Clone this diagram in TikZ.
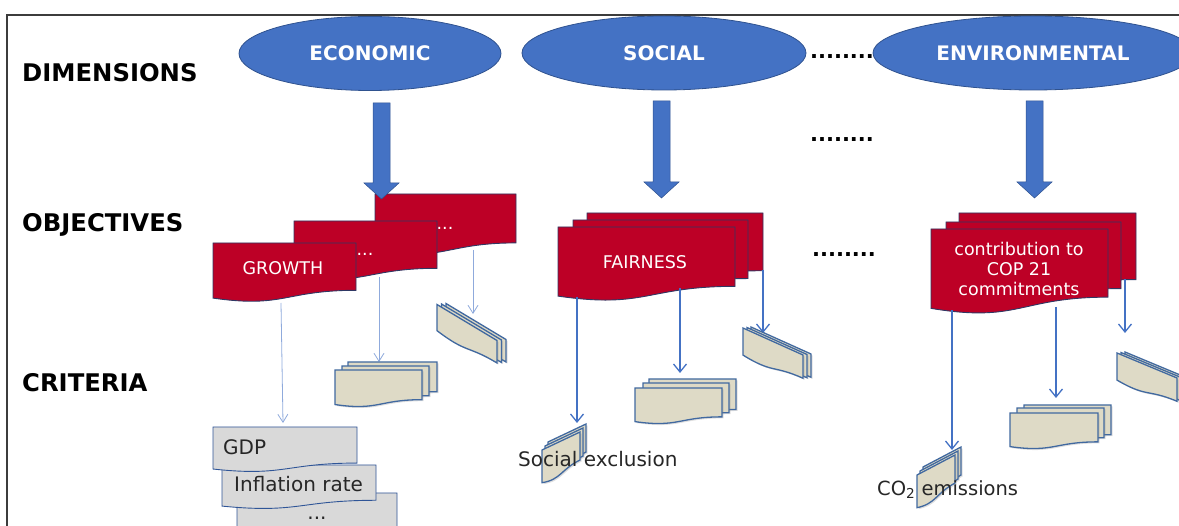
\documentclass[tikz,border=0pt]{standalone}
\usepackage{fontspec}
\setmainfont{DejaVu Sans}
\usetikzlibrary{arrows.meta,shapes.geometric,shadows}
\definecolor{blueF}{RGB}{68,114,196}
\definecolor{blueD}{RGB}{47,82,143}
\definecolor{redF}{RGB}{189,0,38}
\definecolor{redD}{RGB}{47,56,100}
\definecolor{creamF}{RGB}{222,218,198}
\definecolor{creamD}{RGB}{65,105,160}
\definecolor{grayF}{RGB}{217,217,217}
\definecolor{grayD}{RGB}{47,85,151}
\definecolor{linkL}{RGB}{143,170,220}
\definecolor{txtD}{RGB}{38,38,38}
\definecolor{frameC}{RGB}{60,60,60}
% document shape: top-left (x,y), width, height (y downwards)
\newcommand\mydoc[5][]{\path[#1] (#2,#3) -- ({#2+#4},#3) -- ({#2+#4},{#3+0.802*#5}) .. controls ({#2+0.5*#4},{#3+0.802*#5}) and ({#2+0.5*#4},{#3+1.1075*#5}) .. (#2,{#3+0.934*#5}) -- cycle;}
% skewed document: origin (x,y), top edge vector (ax,ay), vertical height h
\newcommand\skdoc[6][]{\path[#1] (#2,#3) -- ({#2+#4},{#3+(#5)}) -- ({#2+#4},{#3+(#5)+0.802*#6}) .. controls ({#2+0.5*#4},{#3+0.5*(#5)+0.802*#6}) and ({#2+0.5*#4},{#3+0.5*(#5)+1.1075*#6}) .. (#2,{#3+0.934*#6}) -- cycle;}
% block arrow: x centre, y top, y head start, y tip
\newcommand\blockarrow[4]{\path[blockarr] ({#1-8.5},#2) -- ({#1+8.5},#2) -- ({#1+8.5},#3) -- ({#1+17.5},#3) -- (#1,#4) -- ({#1-17.5},#3) -- ({#1-8.5},#3) -- cycle;}
\tikzset{
  lbl/.style={font=\bfseries\fontsize{24.3}{28}\selectfont, anchor=west, inner sep=0pt},
  dim/.style={ellipse, fill=blueF, draw=blueD, line width=0.8pt, text=white, font=\bfseries\fontsize{20}{24}\selectfont, minimum height=74pt, inner sep=0pt},
  dotsx/.style={font=\bfseries\fontsize{21}{24}\selectfont, anchor=base, inner sep=0pt},
  objdoc/.style={fill=redF, draw=redD, line width=0.9pt},
  crdoc/.style={fill=creamF, draw=creamD, line width=1.3pt, drop shadow={shadow xshift=1.5pt, shadow yshift=-1.5pt, opacity=0.25}},
  grdoc/.style={fill=grayF, draw=grayD, line width=0.9pt},
  objtxt/.style={text=white, font=\fontsize{17.5}{20}\selectfont, inner sep=0pt, align=center},
  crtxt/.style={text=txtD, font=\fontsize{20}{22}\selectfont, anchor=west, inner sep=0pt},
  econlink/.style={draw=linkL, line width=0.8pt, -{Straight Barb[length=8pt,width=10pt]}},
  link/.style={draw=blueF, line width=1.3pt, -{Straight Barb[length=8pt,width=13pt]}},
  blockarr/.style={fill=blueF, draw=blueD, line width=0.5pt},
  framel/.style={draw=frameC, line width=1.3pt},
}
\begin{document}
\begin{tikzpicture}[x=1pt,y=-1pt]
\useasboundingbox (0,0) rectangle (1179,526);
\clip (0,0) rectangle (1179,526);
% frame
\draw[framel] (7,530) -- (7,15) -- (1185,15);
% row labels
\node[lbl] (ldim) at (22,73) {DIMENSIONS};
\node[lbl] (lobj) at (22,225) {OBJECTIVES};
\node[lbl] (lcrit) at (22,383) {CRITERIA};
% dimensions
\node[dim, minimum width=262pt] (eco) at (370,53.5) {ECONOMIC};
\node[dim, minimum width=284pt] (soc) at (664,53) {SOCIAL};
\node[dim, minimum width=320pt] (env) at (1033,53) {ENVIRONMENTAL};
\node[dotsx] (d1) at (842,59) {........};
\node[dotsx] (d2) at (842,142) {........};
\node[dotsx] (d3) at (844,257) {........};
% objectives (red documents)
\mydoc[objdoc]{375}{194}{141}{61}
\mydoc[objdoc]{294}{221}{143}{59}
\mydoc[objdoc]{213}{243}{143}{59}
\mydoc[objdoc]{587}{213}{176}{72}
\mydoc[objdoc]{573}{220}{175}{73}
\mydoc[objdoc]{558}{227}{177}{74}
\mydoc[objdoc]{959}{213}{177}{83}
\mydoc[objdoc]{946}{222}{175}{83}
\mydoc[objdoc]{931}{229}{177}{85}
% block arrows
\blockarrow{381.5}{103}{183}{199}
\blockarrow{661.5}{101}{182}{198}
\blockarrow{1034.5}{101}{182}{198}
% connector end points
\coordinate (e1s) at (281,303); \coordinate (e1t) at (283,423);
\coordinate (e2s) at (379,277); \coordinate (e2t) at (379,362);
\coordinate (e3s) at (473,250); \coordinate (e3t) at (473,314);
\coordinate (s1s) at (577,297); \coordinate (s1t) at (577,423);
\coordinate (s2s) at (680,288); \coordinate (s2t) at (680,373);
\coordinate (s3s) at (763,270); \coordinate (s3t) at (763,333);
\coordinate (n1s) at (952,310); \coordinate (n1t) at (952,450);
\coordinate (n2s) at (1056,307); \coordinate (n2t) at (1056,398);
\coordinate (n3s) at (1125,279); \coordinate (n3t) at (1125,333);
\draw[econlink] (e1s) -- (e1t);
\draw[econlink] (e2s) -- (e2t);
\draw[econlink] (e3s) -- (e3t);
\draw[link] (s1s) -- (s1t);
\draw[link] (s2s) -- (s2t);
\draw[link] (s3s) -- (s3t);
\draw[link] (n1s) -- (n1t);
\draw[link] (n2s) -- (n2t);
\draw[link] (n3s) -- (n3t);
% criteria: economic
\mydoc[grdoc]{237}{493}{160}{45}
\mydoc[grdoc]{222}{465}{154}{44}
\mydoc[grdoc]{213}{427}{144}{45}
\mydoc[crdoc]{348}{362}{89}{37}
\mydoc[crdoc]{342}{366}{87}{37}
\mydoc[crdoc]{335}{370}{87}{37}
\skdoc[crdoc]{446}{303.5}{60}{36}{28}
\skdoc[crdoc]{441.5}{304}{60}{36}{28}
\skdoc[crdoc]{437}{304.5}{60}{36}{28}
% criteria: social
\skdoc[crdoc]{548}{442}{38}{-18}{35}
\skdoc[crdoc]{545}{446}{38}{-18}{35}
\skdoc[crdoc]{542}{450}{38}{-18}{35}
\mydoc[crdoc]{649}{379}{87}{38}
\mydoc[crdoc]{643}{383}{86}{37}
\mydoc[crdoc]{635}{388}{87}{36}
\skdoc[crdoc]{751}{327}{60}{27}{29}
\skdoc[crdoc]{747}{327.5}{60}{27}{29}
\skdoc[crdoc]{743}{328}{60}{27}{29}
% criteria: environmental
\skdoc[crdoc]{923}{467}{38}{-20}{35}
\skdoc[crdoc]{920}{471}{38}{-20}{35}
\skdoc[crdoc]{917}{475}{38}{-20}{35}
\mydoc[crdoc]{1024}{405}{87}{37}
\mydoc[crdoc]{1017}{408}{87}{37}
\mydoc[crdoc]{1010}{413}{88}{36}
\skdoc[crdoc]{1125}{352}{60}{25}{29}
\skdoc[crdoc]{1121}{352.5}{60}{25}{29}
\skdoc[crdoc]{1117}{353}{60}{25}{29}
% texts
\node[objtxt] (tgrowth) at (283,268) {GROWTH};
\node[objtxt] (tdotsA) at (365,254) {...};
\node[objtxt] (tdotsB) at (445,228) {...};
\node[objtxt] (tfair) at (645,262) {FAIRNESS};
\node[objtxt] (tcop) at (1019,269) {contribution to\\COP 21\\commitments};
\node[crtxt] (tgdp) at (223,447) {GDP};
\node[crtxt] (tinf) at (234,484) {Inflation rate};
\node[crtxt, anchor=center] (tdotsC) at (317,518) {...};
\node[crtxt] (tsoc) at (518,459) {Social exclusion};
\node[crtxt, font=\fontsize{19.5}{22}\selectfont] (tco2) at (877,490) {CO\textsubscript{2} emissions};
\end{tikzpicture}
\end{document}
